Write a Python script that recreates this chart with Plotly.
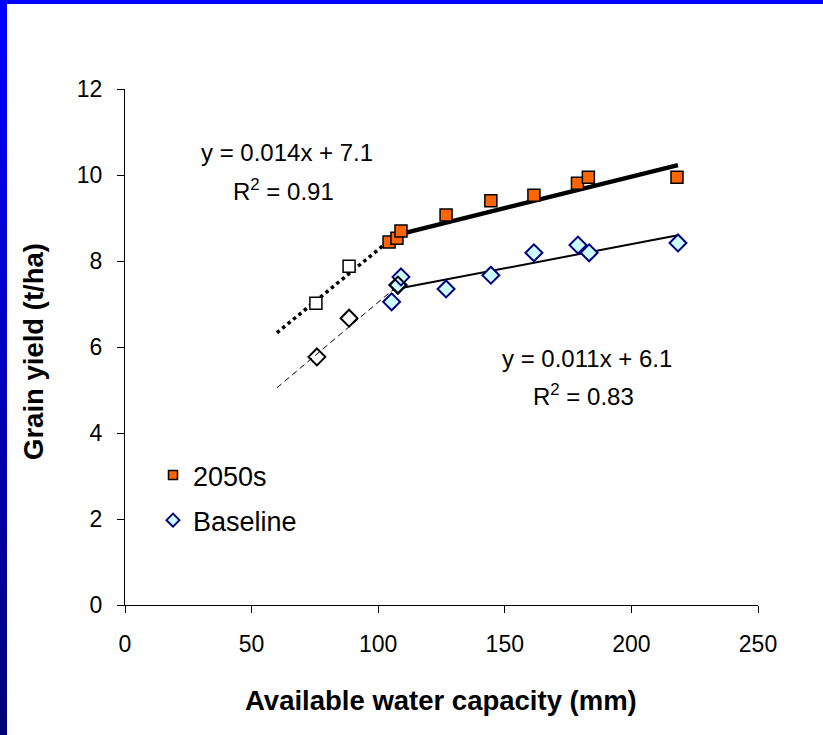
import plotly.graph_objects as go

# ---- data ----
awc_2050 = [104.3, 107.4, 109.0, 126.8, 144.5, 161.5, 178.7, 183.0, 218.0]
yield_2050 = [8.44, 8.53, 8.70, 9.07, 9.40, 9.53, 9.81, 9.95, 9.95]

awc_base = [105.3, 107.8, 109.0, 126.8, 144.5, 161.5, 178.9, 183.3, 218.4]
yield_base = [7.05, 7.44, 7.63, 7.35, 7.67, 8.19, 8.37, 8.19, 8.42]

awc_2050_low = [75.4, 88.5]
yield_2050_low = [7.02, 7.88]

awc_base_low = [75.8, 88.5, 107.8]
yield_base_low = [5.77, 6.67, 7.44]

trend_2050_x = [105.5, 218.4]
trend_2050_y = [8.58, 10.23]
trend_2050_low_x = [60.0, 104.7]
trend_2050_low_y = [6.33, 8.49]
trend_base_x = [105.5, 218.4]
trend_base_y = [7.33, 8.60]
trend_base_low_x = [60.0, 106.6]
trend_base_low_y = [5.05, 7.37]

x_ticks = [0, 50, 100, 150, 200, 250]
y_ticks = [0, 2, 4, 6, 8, 10, 12]

FONT = "Liberation Sans, Arial, sans-serif"

fig = go.Figure()

# trend lines
fig.add_trace(go.Scatter(x=trend_base_low_x, y=trend_base_low_y, mode="lines",
                         line=dict(color="black", width=1, dash="6px,4px"), showlegend=False))
fig.add_trace(go.Scatter(x=trend_2050_low_x, y=trend_2050_low_y, mode="lines",
                         line=dict(color="black", width=3.5, dash="dot"), showlegend=False))
fig.add_trace(go.Scatter(x=trend_base_x, y=trend_base_y, mode="lines",
                         line=dict(color="black", width=2), showlegend=False))
fig.add_trace(go.Scatter(x=trend_2050_x, y=trend_2050_y, mode="lines",
                         line=dict(color="black", width=4.5), showlegend=False))

# markers
fig.add_trace(go.Scatter(x=awc_base, y=yield_base, mode="markers", showlegend=False,
                         marker=dict(symbol="diamond", size=13, color="#CCFFFF",
                                     line=dict(color="#000080", width=2))))
fig.add_trace(go.Scatter(x=awc_base_low, y=yield_base_low, mode="markers", showlegend=False,
                         marker=dict(symbol="diamond-open", size=13, color="black",
                                     line=dict(width=2))))
fig.add_trace(go.Scatter(x=awc_2050, y=yield_2050, mode="markers", showlegend=False,
                         marker=dict(symbol="square", size=12, color="#FF6600",
                                     line=dict(color="black", width=1.5))))
fig.add_trace(go.Scatter(x=awc_2050_low, y=yield_2050_low, mode="markers", showlegend=False,
                         marker=dict(symbol="square", size=12, color="white",
                                     line=dict(color="black", width=1.5))))

# legend entries
fig.add_trace(go.Scatter(x=[None], y=[None], mode="markers", name="2050s", legendgroup="a",
                         marker=dict(symbol="square", size=9, color="#FF6600",
                                     line=dict(color="black", width=1.5))))
fig.add_trace(go.Scatter(x=[None], y=[None], mode="markers", name="Baseline", legendgroup="b",
                         marker=dict(symbol="diamond", size=10, color="#CCFFFF",
                                     line=dict(color="#000080", width=2))))

W, H = 823, 735
L, R, T, B = 125, 65, 89, 130
pw, ph = W - L - R, H - T - B

def px_x(p):
    return (p - L) / pw

def px_y(p):
    return (H - B - p) / ph

# blue frame: top bar and left gradient bar
shapes = [dict(type="rect", xref="paper", yref="paper", x0=px_x(0), x1=px_x(W), y0=px_y(-2), y1=px_y(4),
               fillcolor="#0000FF", line=dict(width=0), layer="above")]
n = 40
for i in range(n):
    t = i / (n - 1)
    b = int(round(255 - t * (255 - 120)))
    y0 = i * H / n
    y1 = (i + 1) * H / n + 1
    shapes.append(dict(type="rect", xref="paper", yref="paper", x0=px_x(0), x1=px_x(7),
                       y0=px_y(y1), y1=px_y(y0), fillcolor=f"rgb(0,0,{b})",
                       line=dict(width=0), layer="above"))

def ann(text, x, y, size, angle=0):
    return dict(text=text, x=px_x(x), y=px_y(y), xref="paper", yref="paper",
                xanchor="center", yanchor="middle", showarrow=False, textangle=angle,
                font=dict(size=size, color="black", family=FONT))

annotations = [
    ann("y = 0.014x + 7.1", 287, 152, 24),
    ann("R<sup>2</sup> = 0.91", 283, 190, 24),
    ann("y = 0.011x + 6.1", 587, 358, 24),
    ann("R<sup>2</sup> = 0.83", 583, 395, 24),
    ann("<b>Available water capacity (mm)</b>", 441, 701, 27.5),
    ann("<b>Grain yield (t/ha)</b>", 33, 352, 27.5, -90),
]

fig.update_layout(
    width=W, height=H,
    margin=dict(l=L, r=R, t=T, b=B),
    paper_bgcolor="white", plot_bgcolor="white",
    font=dict(family=FONT, color="black"),
    shapes=shapes,
    annotations=annotations,
    hovermode=False,
    legend=dict(x=px_x(153), y=px_y(451), xanchor="left", yanchor="top",
                font=dict(size=27, family=FONT, color="black"),
                bgcolor="rgba(0,0,0,0)", tracegroupgap=7),
    xaxis=dict(range=[0, 250], tickvals=x_ticks, ticks="outside", ticklen=7,
               tickcolor="black", showline=True, linecolor="black", linewidth=1,
               showgrid=False, zeroline=False, tickfont=dict(size=23, family=FONT),
               ticklabelstandoff=11),
    yaxis=dict(range=[0, 12], tickvals=y_ticks, ticks="outside", ticklen=7,
               tickcolor="black", showline=True, linecolor="black", linewidth=1,
               showgrid=False, zeroline=False, tickfont=dict(size=23, family=FONT),
               ticklabelstandoff=10),
)

fig.write_html("out.html", config={"displayModeBar": False},
               post_script="document.body.style.margin='0';document.body.style.padding='0';")
